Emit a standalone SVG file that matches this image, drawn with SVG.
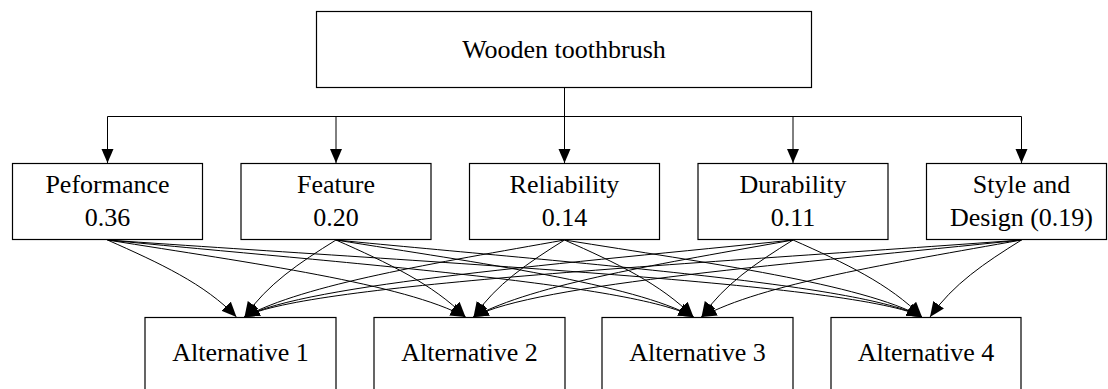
<svg xmlns="http://www.w3.org/2000/svg" width="1108" height="389" viewBox="0 0 1108 389">
<defs>
<style>
.box{fill:#fff;stroke:#000;stroke-width:1.2}
.t{font-family:"Liberation Serif","Times New Roman",serif;font-size:26px;fill:#000;text-anchor:middle}
.e{fill:none;stroke:#000;stroke-width:1}
.ea{fill:none;stroke:#000;stroke-width:1;marker-end:url(#ah)}
</style>
<marker id="ah" markerUnits="userSpaceOnUse" markerWidth="16" markerHeight="14" refX="14" refY="6" orient="auto">
<path d="M0,0 L14,6 L0,12 z" fill="#000"/>
</marker>
<marker id="ah2" markerUnits="userSpaceOnUse" markerWidth="17" markerHeight="15" refX="15" refY="6.5" orient="auto">
<path d="M0,0 L15,6.5 L0,13 z" fill="#000"/>
</marker>
</defs>
<rect width="1108" height="389" fill="#fff"/>

<g id="connectors">
<path class="e" d="M564.5,87.5 V116.5"/>
<path class="e" d="M107.5,116.5 H1021.5"/>
<path class="ea" d="M107.5,116.5 V163"/>
<path class="ea" d="M336,116.5 V163"/>
<path class="ea" d="M564.5,116.5 V163"/>
<path class="ea" d="M793,116.5 V163"/>
<path class="ea" d="M1021.5,116.5 V163"/>
<g fill="none" stroke="#000" stroke-width="1" marker-end="url(#ah2)">
<path d="M107.5,240 C159.5,263 205,284 236.5,317"/>
<path d="M107.5,240 C251,263 405.5,284 465.5,317"/>
<path d="M107.5,240 C342,263 633.5,284 693.5,317"/>
<path d="M107.5,240 C434,263 862,284 922,317"/>
<path d="M336,240 C299,263 267.6,284 244.5,317"/>
<path d="M336,240 C388,263 432.9,284 465.5,317"/>
<path d="M336,240 C479,263 633.5,284 693.5,317"/>
<path d="M336,240 C571,263 862,284 922,317"/>
<path d="M564.5,240 C436,263 304.5,284 244.5,317"/>
<path d="M564.5,240 C527.7,263 496.5,284 473.5,317"/>
<path d="M564.5,240 C616.5,263 661,284 693.5,317"/>
<path d="M564.5,240 C708,263 862,284 922,317"/>
<path d="M793,240 C573,263 304.5,284 244.5,317"/>
<path d="M793,240 C665,263 533.5,284 473.5,317"/>
<path d="M793,240 C756,263 724.6,284 701.5,317"/>
<path d="M793,240 C845,263 889.5,284 922,317"/>
<path d="M1021.5,240 C710,263 304.5,284 244.5,317"/>
<path d="M1021.5,240 C802,263 533.5,284 473.5,317"/>
<path d="M1021.5,240 C893,263 761.5,284 701.5,317"/>
<path d="M1021.5,240 C984.5,263 953.1,284 930,317"/>
</g>
</g>

<g id="goal">
<rect class="box" x="316.5" y="11.5" width="495" height="76"/>
<text class="t" x="564" y="58">Wooden toothbrush</text>
</g>

<g id="c1">
<rect class="box" x="12.5" y="163.5" width="190" height="76"/>
<text class="t" x="107.5" y="193">Peformance</text>
<text class="t" x="107.5" y="226">0.36</text>
</g>
<g id="c2">
<rect class="box" x="241" y="163.5" width="190" height="76"/>
<text class="t" x="336" y="193">Feature</text>
<text class="t" x="336" y="226">0.20</text>
</g>
<g id="c3">
<rect class="box" x="469.5" y="163.5" width="190" height="76"/>
<text class="t" x="564.5" y="193">Reliability</text>
<text class="t" x="564.5" y="226">0.14</text>
</g>
<g id="c4">
<rect class="box" x="698" y="163.5" width="190" height="76"/>
<text class="t" x="793" y="193">Durability</text>
<text class="t" x="793" y="226">0.11</text>
</g>
<g id="c5">
<rect class="box" x="926.5" y="163.5" width="180" height="76"/>
<text class="t" x="1021.5" y="193">Style and</text>
<text class="t" x="1021.5" y="226">Design (0.19)</text>
</g>

<g id="a1">
<rect class="box" x="145" y="317.5" width="191" height="90"/>
<text class="t" x="240.5" y="361">Alternative 1</text>
</g>
<g id="a2">
<rect class="box" x="374" y="317.5" width="191" height="90"/>
<text class="t" x="469.5" y="361">Alternative 2</text>
</g>
<g id="a3">
<rect class="box" x="602" y="317.5" width="191" height="90"/>
<text class="t" x="697.5" y="361">Alternative 3</text>
</g>
<g id="a4">
<rect class="box" x="831" y="317.5" width="190" height="90"/>
<text class="t" x="926" y="361">Alternative 4</text>
</g>
</svg>
